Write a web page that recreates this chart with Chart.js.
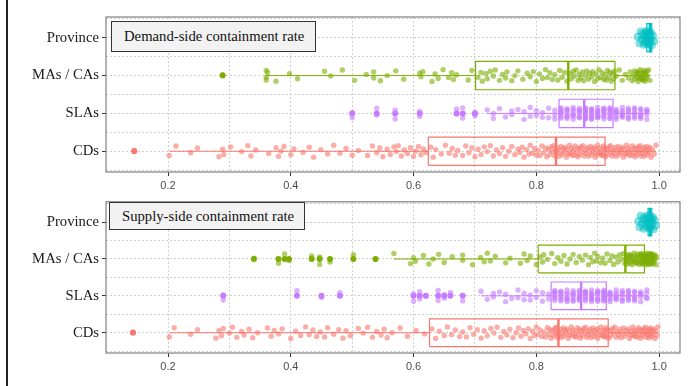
<!DOCTYPE html>
<html lang="en">
<head>
<meta charset="UTF-8">
<title>Containment rate</title>
<script src="https://cdn.jsdelivr.net/npm/chart.js"></script>
<style>
  body { margin: 0; background: #fff; width: 690px; height: 386px; position: relative; overflow: hidden; }
  canvas { position: absolute; left: 0; }
  .edge { position: absolute; left: 6px; top: 0; width: 1.5px; height: 386px; background: #222; }
  .tag {
    position: absolute; box-sizing: border-box; background: #f2f2f2; border: 1.3px solid #333;
    font-family: 'Liberation Serif', 'Times New Roman', serif; font-size: 14.7px; color: #111;
    padding-left: 12px; display: flex; align-items: center; z-index: 2;
  }
</style>
</head>
<body>
<div class="edge"></div>
<canvas id="painel1" width="690" height="190" style="top:0"></canvas>
<canvas id="painel2" width="690" height="196" style="top:190px"></canvas>
<div class="tag" style="left:111px; top:21px; width:205px; height:31px;">Demand-side containment rate</div>
<div class="tag" style="left:109px; top:202px; width:196px; height:28px;">Supply-side containment rate</div>

<script>
// categories from bottom to top
const categories = ['CDs', 'SLAs', 'MAs / CAs', 'Province'];
const colors = ['#F8766D', '#C77CFF', '#7CAE00', '#00BFC4'];
const xMajorTicks = [0.2, 0.4, 0.6, 0.8, 1.0];
const xMinorTicks = [0.3, 0.5, 0.7, 0.9];

// ---- demand side ----
const demandCDs = [0.145, 0.202, 0.213, 0.237, 0.248, 0.283, 0.289, 0.291, 0.302, 0.32, 0.33, 0.335, 0.343, 0.364, 0.376, 0.38, 0.384, 0.389, 0.40, 0.405,
  0.42, 0.43, 0.437, 0.449, 0.46, 0.47, 0.48, 0.49, 0.50, 0.51, 0.525, 0.533, 0.54, 0.545, 0.55, 0.557, 0.562, 0.568, 0.572, 0.575,
  0.58, 0.585, 0.59, 0.595, 0.60, 0.603, 0.608, 0.612, 0.616, 0.62,
  0.628, 0.632, 0.636, 0.645, 0.652, 0.658, 0.663, 0.668, 0.672, 0.68, 0.685, 0.69, 0.695, 0.70, 0.705, 0.71, 0.715, 0.72, 0.725, 0.73,
  0.735, 0.74, 0.745, 0.75, 0.755, 0.76, 0.765, 0.77, 0.773, 0.777, 0.78, 0.784, 0.788, 0.79, 0.794, 0.797, 0.80, 0.803, 0.806, 0.809,
  0.812, 0.815, 0.817, 0.82, 0.822, 0.824, 0.826, 0.828, 0.83, 0.831,
  0.833, 0.835, 0.837, 0.838, 0.84, 0.842, 0.844, 0.845, 0.847, 0.849, 0.85, 0.852, 0.854, 0.855, 0.857, 0.858, 0.86, 0.862, 0.863, 0.865,
  0.867, 0.868, 0.87, 0.871, 0.873, 0.875, 0.876, 0.878, 0.88, 0.881, 0.883, 0.885, 0.886, 0.888, 0.89, 0.891, 0.893, 0.894, 0.896, 0.897,
  0.899, 0.90, 0.902, 0.903, 0.905, 0.906, 0.908, 0.909, 0.91, 0.911,
  0.913, 0.915, 0.916, 0.918, 0.92, 0.921, 0.923, 0.925, 0.926, 0.928, 0.93, 0.932, 0.933, 0.935, 0.937, 0.938, 0.94, 0.942, 0.943, 0.945,
  0.947, 0.948, 0.95, 0.951, 0.953, 0.955, 0.956, 0.958, 0.96, 0.961, 0.963, 0.964, 0.966, 0.967, 0.969, 0.97, 0.972, 0.973, 0.975, 0.976,
  0.978, 0.979, 0.981, 0.982, 0.984, 0.985, 0.987, 0.989, 0.992, 0.995];
const demandSLAs = [0.50, 0.50, 0.54, 0.54, 0.57, 0.57, 0.61, 0.61, 0.67, 0.67, 0.68, 0.68, 0.70, 0.70,
  0.72, 0.73, 0.73, 0.74, 0.75, 0.76, 0.76, 0.77, 0.78, 0.78, 0.79, 0.79, 0.80, 0.80, 0.81, 0.81, 0.82, 0.82, 0.83, 0.83, 0.83,
  0.84, 0.84, 0.84, 0.84, 0.84, 0.84, 0.84, 0.85, 0.85, 0.85, 0.85, 0.85, 0.85, 0.85, 0.86, 0.86, 0.86, 0.86, 0.86, 0.86, 0.86,
  0.87, 0.87, 0.87, 0.87, 0.87, 0.87, 0.87, 0.88, 0.88, 0.88, 0.88, 0.88, 0.88, 0.88, 0.88, 0.88, 0.88,
  0.89, 0.89, 0.89, 0.89, 0.89, 0.89, 0.89, 0.89, 0.90, 0.90, 0.90, 0.90, 0.90, 0.90, 0.90, 0.90,
  0.91, 0.91, 0.91, 0.91, 0.91, 0.91, 0.91, 0.91, 0.92, 0.92, 0.92, 0.92, 0.92, 0.92, 0.92, 0.92,
  0.93, 0.93, 0.93, 0.93, 0.93, 0.93, 0.94, 0.94, 0.94, 0.94, 0.94, 0.94, 0.95, 0.95, 0.95, 0.95, 0.95, 0.95,
  0.96, 0.96, 0.96, 0.96, 0.96, 0.96, 0.97, 0.97, 0.97, 0.97, 0.97, 0.97, 0.98, 0.98, 0.98, 0.98, 0.98];
const demandMAs = [0.289, 0.36, 0.36, 0.36, 0.362, 0.376, 0.398, 0.411, 0.455, 0.465, 0.484, 0.504, 0.523, 0.535, 0.535, 0.546,
  0.557, 0.571, 0.584, 0.61, 0.612, 0.615, 0.63, 0.635, 0.64, 0.648, 0.657, 0.662, 0.665, 0.67, 0.689, 0.695,
  0.705, 0.71, 0.712, 0.718, 0.72, 0.725, 0.73, 0.733, 0.74, 0.745, 0.75, 0.752, 0.76, 0.765, 0.77, 0.778,
  0.785, 0.79, 0.795, 0.80, 0.805, 0.81, 0.815, 0.818, 0.822, 0.826, 0.83, 0.835, 0.838, 0.842, 0.846, 0.85,
  0.855, 0.857, 0.86, 0.862, 0.865, 0.868, 0.87, 0.872, 0.875, 0.877, 0.88, 0.882, 0.885, 0.887, 0.89, 0.892,
  0.895, 0.897, 0.90, 0.902, 0.905, 0.907, 0.91, 0.912, 0.914, 0.916, 0.918, 0.92, 0.922, 0.924, 0.926, 0.927,
  0.93, 0.935, 0.94, 0.945, 0.95, 0.953, 0.956, 0.958, 0.96, 0.961, 0.963, 0.964, 0.965, 0.966, 0.967, 0.968,
  0.969, 0.97, 0.971, 0.972, 0.973, 0.974, 0.975, 0.975, 0.976, 0.977, 0.978, 0.979, 0.98, 0.981, 0.983, 0.985];
const demandProvince = [0.965, 0.968, 0.97, 0.972, 0.973, 0.975, 0.976, 0.977, 0.978, 0.978, 0.979, 0.98, 0.98,
  0.981, 0.981, 0.982, 0.983, 0.984, 0.985, 0.985, 0.986, 0.987, 0.988, 0.99, 0.992];
const demandOutCDs = [0.145];
const demandOutSLAs = [0.50, 0.54, 0.57, 0.61, 0.67, 0.68, 0.70];
const demandOutMAs = [0.289];
const demandOutProvince = [];
// boxplot stats, same order as categories
const demandLower = [0.202, 0.72, 0.36, 0.965];
const demandQ1 = [0.624, 0.837, 0.701, 0.980];
const demandMedian = [0.832, 0.878, 0.852, 0.985];
const demandQ3 = [0.912, 0.925, 0.928, 0.988];
const demandUpper = [0.995, 0.98, 0.985, 0.992];

// ---- supply side ----
const supplyCDs = [0.143, 0.202, 0.21, 0.237, 0.248, 0.278, 0.283, 0.287, 0.29, 0.30, 0.305, 0.312, 0.32, 0.324, 0.332, 0.338, 0.346, 0.362, 0.368, 0.373,
  0.38, 0.386, 0.40, 0.408, 0.416, 0.424, 0.43, 0.436, 0.442, 0.448, 0.455, 0.46, 0.47, 0.478, 0.485, 0.49, 0.497, 0.51, 0.518, 0.525,
  0.533, 0.54, 0.547, 0.552, 0.557, 0.565, 0.578, 0.59, 0.604, 0.618,
  0.63, 0.636, 0.642, 0.65, 0.655, 0.662, 0.668, 0.675, 0.68, 0.686, 0.692, 0.698, 0.704, 0.71, 0.715, 0.72, 0.726, 0.731, 0.736, 0.742,
  0.747, 0.752, 0.757, 0.762, 0.767, 0.771, 0.775, 0.779, 0.783, 0.787, 0.79, 0.794, 0.797, 0.80, 0.803, 0.806, 0.809, 0.812, 0.815, 0.818,
  0.82, 0.822, 0.824, 0.826, 0.828, 0.83, 0.831, 0.832, 0.834, 0.835,
  0.837, 0.839, 0.84, 0.842, 0.844, 0.845, 0.847, 0.849, 0.85, 0.852, 0.854, 0.855, 0.857, 0.859, 0.86, 0.862, 0.864, 0.865, 0.867, 0.869,
  0.87, 0.872, 0.874, 0.875, 0.877, 0.879, 0.88, 0.882, 0.884, 0.885, 0.887, 0.889, 0.89, 0.892, 0.894, 0.895, 0.897, 0.899, 0.90, 0.902,
  0.904, 0.905, 0.907, 0.909, 0.91, 0.911, 0.912, 0.913, 0.914, 0.916,
  0.918, 0.92, 0.922, 0.924, 0.926, 0.928, 0.93, 0.932, 0.934, 0.936, 0.938, 0.94, 0.942, 0.944, 0.946, 0.948, 0.95, 0.952, 0.954, 0.955,
  0.957, 0.958, 0.96, 0.961, 0.963, 0.964, 0.966, 0.967, 0.969, 0.97, 0.972, 0.973, 0.975, 0.976, 0.978, 0.979, 0.98, 0.981, 0.983, 0.984,
  0.985, 0.986, 0.988, 0.989, 0.99, 0.991, 0.993, 0.995, 0.997, 0.998];
const supplySLAs = [0.29, 0.29, 0.41, 0.45, 0.48, 0.60, 0.60, 0.61, 0.61, 0.62, 0.64, 0.64, 0.65, 0.65, 0.66, 0.68, 0.68,
  0.71, 0.72, 0.73, 0.73, 0.74, 0.75, 0.75, 0.76, 0.77, 0.77, 0.78, 0.78, 0.79, 0.79, 0.80, 0.80, 0.81, 0.81, 0.82, 0.82,
  0.83, 0.83, 0.83, 0.83, 0.83, 0.83, 0.83, 0.84, 0.84, 0.84, 0.84, 0.84, 0.84, 0.84, 0.85, 0.85, 0.85, 0.85, 0.85, 0.85, 0.85,
  0.86, 0.86, 0.86, 0.86, 0.86, 0.86, 0.86, 0.87, 0.87, 0.87, 0.87, 0.87, 0.87, 0.87,
  0.88, 0.88, 0.88, 0.88, 0.88, 0.88, 0.88, 0.88, 0.89, 0.89, 0.89, 0.89, 0.89, 0.89, 0.89, 0.89,
  0.90, 0.90, 0.90, 0.90, 0.90, 0.90, 0.90, 0.90, 0.91, 0.91, 0.91, 0.91, 0.91, 0.91, 0.91, 0.91, 0.91,
  0.92, 0.92, 0.92, 0.92, 0.92, 0.92, 0.93, 0.93, 0.93, 0.93, 0.93, 0.93, 0.94, 0.94, 0.94, 0.94, 0.94, 0.94,
  0.95, 0.95, 0.95, 0.95, 0.95, 0.95, 0.96, 0.96, 0.96, 0.96, 0.96, 0.96, 0.97, 0.97, 0.97, 0.97, 0.97, 0.98, 0.98, 0.98, 0.98];
const supplyMAs = [0.34, 0.38, 0.39, 0.397, 0.434, 0.447, 0.447, 0.464, 0.502, 0.538,
  0.568, 0.595, 0.60, 0.603, 0.616, 0.625, 0.632, 0.641, 0.65, 0.663, 0.68, 0.68, 0.696, 0.709, 0.715, 0.72, 0.725, 0.733, 0.75, 0.757,
  0.774, 0.78, 0.785, 0.79, 0.80,
  0.806, 0.81, 0.812, 0.818, 0.825, 0.83, 0.835, 0.84, 0.845, 0.85, 0.855, 0.86, 0.865, 0.87, 0.875, 0.88, 0.885, 0.888, 0.892, 0.895,
  0.898, 0.90, 0.905, 0.908, 0.912, 0.915, 0.92, 0.923, 0.926, 0.93, 0.933, 0.936, 0.939, 0.942, 0.944,
  0.946, 0.947, 0.948, 0.949, 0.95, 0.951, 0.952, 0.953, 0.954, 0.955, 0.956, 0.957, 0.958, 0.959, 0.96, 0.961, 0.962, 0.963, 0.964, 0.965,
  0.966, 0.967, 0.968, 0.969, 0.97, 0.97, 0.971, 0.971, 0.972, 0.973, 0.973, 0.974, 0.974, 0.975, 0.975,
  0.977, 0.977, 0.978, 0.978, 0.979, 0.979, 0.98, 0.98, 0.98, 0.981, 0.981, 0.982, 0.982, 0.983, 0.983, 0.984, 0.984, 0.985, 0.985, 0.986,
  0.986, 0.987, 0.987, 0.988, 0.988, 0.989, 0.989, 0.99, 0.99, 0.991, 0.992, 0.993, 0.994, 0.995, 0.996];
const supplyProvince = [0.966, 0.968, 0.97, 0.972, 0.974, 0.975, 0.977, 0.978, 0.979, 0.98, 0.981, 0.982, 0.983,
  0.983, 0.984, 0.985, 0.985, 0.986, 0.987, 0.988, 0.989, 0.99, 0.991, 0.993, 0.995];
const supplyOutCDs = [0.143];
const supplyOutSLAs = [0.29, 0.41, 0.45, 0.48, 0.60, 0.61, 0.62, 0.64, 0.65, 0.66, 0.68];
const supplyOutMAs = [0.34, 0.38, 0.39, 0.397, 0.434, 0.447, 0.464, 0.502, 0.538];
const supplyOutProvince = [];
const supplyLower = [0.202, 0.71, 0.568, 0.966];
const supplyQ1 = [0.626, 0.824, 0.803, 0.982];
const supplyMedian = [0.836, 0.873, 0.945, 0.985];
const supplyQ3 = [0.917, 0.914, 0.976, 0.988];
const supplyUpper = [0.998, 0.98, 0.996, 0.995];

// vertical jitter offsets (category units), cycled over the points
const jitter = [0.02, -0.11, 0.13, -0.04, 0.08, -0.14, 0.05, -0.08, 0.11, -0.01, 0.14, -0.12, 0.03, -0.06, 0.09,
  -0.13, 0.0, 0.12, -0.09, 0.06, -0.03, 0.1, -0.15, 0.04, -0.07, 0.15, -0.05, 0.07, -0.1];
const boxHalf = 0.375;

function rgba(hex, a) {
  const n = parseInt(hex.slice(1), 16);
  return `rgba(${(n >> 16) & 255}, ${(n >> 8) & 255}, ${n & 255}, ${a})`;
}

const panelFrame = {
  id: 'panelFrame',
  afterDraw(chart) {
    const a = chart.chartArea;
    const ctx = chart.ctx;
    ctx.save();
    ctx.strokeStyle = '#808080';
    ctx.lineWidth = 1.2;
    ctx.strokeRect(a.left, a.top, a.right - a.left, a.bottom - a.top);
    ctx.restore();
  }
};

function lineSet(pts, color, width) {
  return {
    data: pts, showLine: true, borderColor: color, borderWidth: width, pointRadius: 0,
    borderJoinStyle: 'miter', tension: 0, fill: false, order: 2
  };
}

function drawPanel(canvasId, points, outliers, lower, q1, median, q3, upper, padTop, padBottom) {
  const datasets = [];
  for (let g = 0; g < categories.length; g++) {
    const y = g + 1;
    const c = colors[g];
    const isProv = g === 3;
    const spread = isProv ? 1.3 : 1.05;

    datasets.push({
      data: points[g].map((v, i) => ({ x: v, y: y + jitter[i % jitter.length] * spread })),
      backgroundColor: rgba(c, isProv ? 0.5 : 0.6),
      borderWidth: 0,
      pointRadius: isProv ? 4 : 2.7,
      order: 3
    });
    datasets.push({
      data: outliers[g].map(v => ({ x: v, y: y })),
      backgroundColor: c,
      borderWidth: 0,
      pointRadius: 3,
      order: 1
    });
    datasets.push(lineSet([
      { x: q1[g], y: y - boxHalf }, { x: q3[g], y: y - boxHalf },
      { x: q3[g], y: y + boxHalf }, { x: q1[g], y: y + boxHalf },
      { x: q1[g], y: y - boxHalf }], c, 1.2));
    datasets.push(lineSet([{ x: median[g], y: y - boxHalf }, { x: median[g], y: y + boxHalf }], c, 2.4));
    datasets.push(lineSet([{ x: lower[g], y: y }, { x: q1[g], y: y }], c, 1));
    datasets.push(lineSet([{ x: q3[g], y: y }, { x: upper[g], y: y }], c, 1));
  }

  const isMajorX = v => xMajorTicks.some(t => Math.abs(t - v) < 1e-9);

  new Chart(document.getElementById(canvasId), {
    type: 'scatter',
    data: { datasets: datasets },
    options: {
      responsive: false,
      animation: false,
      devicePixelRatio: 1,
      events: [],
      layout: { padding: { top: padTop, right: 10, bottom: padBottom, left: 0 } },
      plugins: { legend: { display: false }, tooltip: { enabled: false } },
      scales: {
        x: {
          type: 'linear',
          min: 0.099,
          max: 1.034,
          afterBuildTicks: s => { s.ticks = xMajorTicks.concat(xMinorTicks).sort((a, b) => a - b).map(v => ({ value: v })); },
          afterFit: s => { s.height = 18; },
          border: { display: false, dash: [2, 2] },
          grid: {
            color: '#cfcfcf',
            lineWidth: 1,
            tickColor: ctx => isMajorX(ctx.tick.value) ? '#333' : 'rgba(0,0,0,0)',
            tickLength: 4
          },
          ticks: {
            autoSkip: false,
            maxRotation: 0,
            padding: 3,
            color: '#4d4d4d',
            font: { family: "'Liberation Sans', Arial, sans-serif", size: 11 },
            callback: v => isMajorX(v) ? v.toFixed(1) : ''
          }
        },
        y: {
          type: 'linear',
          min: 0.45,
          max: 4.55,
          afterBuildTicks: s => { s.ticks = [0.5, 1, 1.5, 2, 2.5, 3, 3.5, 4, 4.5].map(v => ({ value: v })); },
          afterFit: s => { s.width = 106; },
          border: { display: false, dash: [2, 2] },
          grid: {
            color: '#cfcfcf',
            lineWidth: 1,
            tickColor: ctx => Number.isInteger(ctx.tick.value) ? '#333' : 'rgba(0,0,0,0)',
            tickLength: 4
          },
          ticks: {
            autoSkip: false,
            padding: 3,
            color: '#1a1a1a',
            font: { family: "'Liberation Serif', 'Times New Roman', serif", size: 14.7 },
            callback: v => Number.isInteger(v) ? categories[v - 1] : ''
          }
        }
      }
    },
    plugins: [panelFrame]
  });
}

drawPanel('painel1',
  [demandCDs, demandSLAs, demandMAs, demandProvince],
  [demandOutCDs, demandOutSLAs, demandOutMAs, demandOutProvince],
  demandLower, demandQ1, demandMedian, demandQ3, demandUpper, 17, 0);

drawPanel('painel2',
  [supplyCDs, supplySLAs, supplyMAs, supplyProvince],
  [supplyOutCDs, supplyOutSLAs, supplyOutMAs, supplyOutProvince],
  supplyLower, supplyQ1, supplyMedian, supplyQ3, supplyUpper, 7, 15);
</script>
</body>
</html>
